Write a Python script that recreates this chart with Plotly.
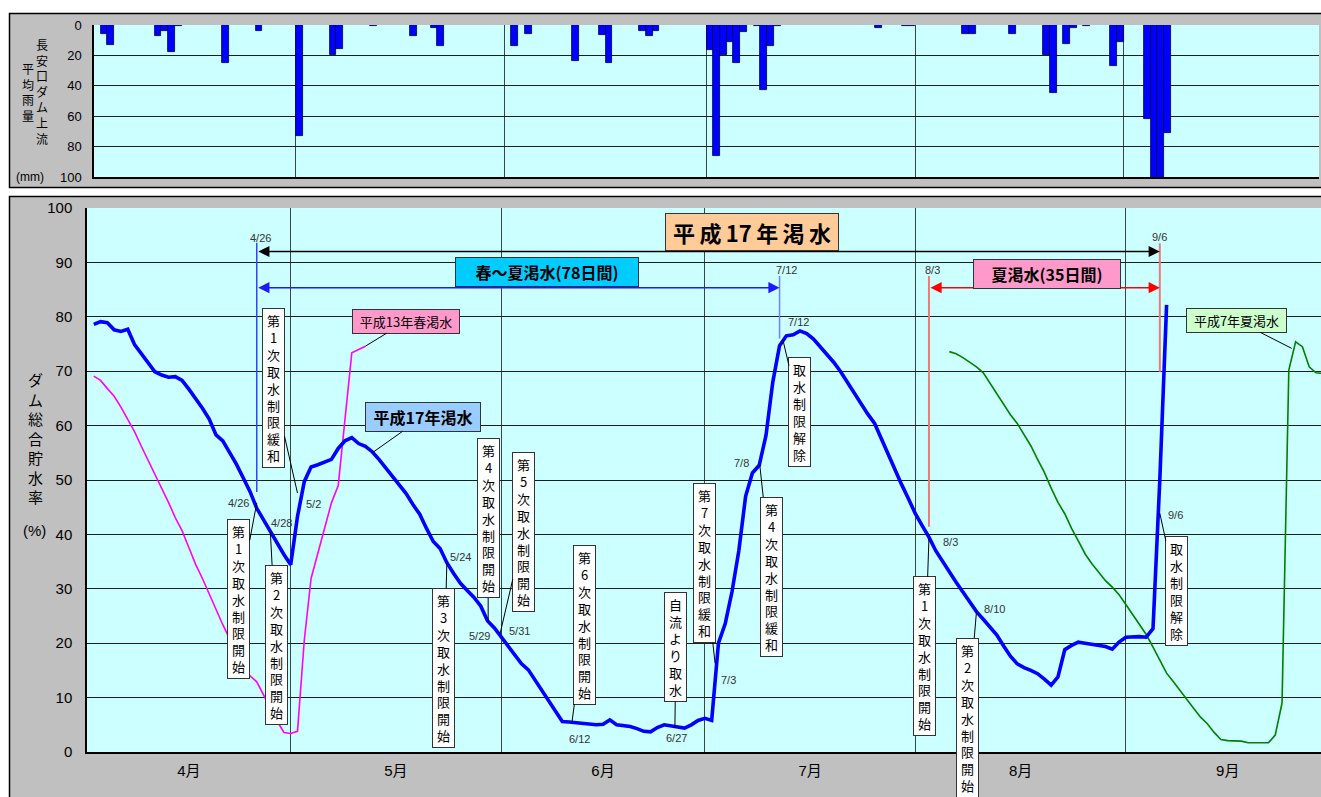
import pandas as pd
import plotly.graph_objects as go

W, H = 1321, 797


def px(x):
    return x / W


def py(y):
    return 1 - y / H


# ---------------- data ----------------
# H17 (2005) dam storage rate, daily from 2005-04-02
blue_start = "2005-04-02"
blue_vals = [
    78.6, 79.1, 78.9, 77.6, 77.3, 77.7, 74.9, 73.3, 71.7, 69.9,
    69.3, 68.9, 69.0, 68.3, 66.7, 65.0, 63.2, 61.2, 58.3, 57.2,
    55.2, 52.9, 50.4, 47.9, 44.8, 42.6, 40.4, 38.3, 36.3, 34.4,
    43.3, 49.7, 52.4, 52.8, 53.3, 53.8, 55.8, 57.2, 57.8, 56.7,
    56.2, 55.2, 53.8, 52.2, 50.8, 49.2, 47.5, 45.5, 43.7, 41.1,
    38.7, 37.4, 34.8, 32.8, 31.0, 29.7, 28.4, 26.8, 24.1, 22.8,
    21.1, 19.5, 17.8, 16.2, 15.1, 13.2, 11.3, 9.6, 7.7, 5.6,
    5.5, 5.4, 5.3, 5.1, 5.0, 5.1, 5.9, 5.0, 4.8, 4.7,
    4.3, 3.8, 3.7, 4.5, 5.0, 4.8, 4.6, 4.4, 5.0, 5.8,
    6.2, 5.8, 20.0, 23.6, 29.5, 37.0, 47.0, 51.3, 52.7, 58.2,
    68.0, 74.7, 76.5, 76.7, 77.4, 76.9, 75.9, 74.5, 73.0, 71.6,
    69.9, 68.0, 65.9, 63.9, 62.1, 60.4, 57.5, 54.7, 52.0, 49.1,
    46.5, 43.8, 41.6, 39.5, 37.0, 35.0, 33.0, 31.2, 29.4, 27.6,
    25.8, 24.4, 22.9, 21.5, 19.5, 17.6, 16.2, 15.5, 15.0, 14.4,
    13.4, 12.3, 13.8, 18.8, 19.6, 20.2, 20.0, 19.8, 19.6, 19.4,
    18.9, 20.2, 21.1, 21.2, 21.2, 21.1, 22.7, 50.0, 82.2,
]

# H13 spring drought, daily from 2005-04-02 (same calendar days)
h13_start = "2005-04-02"
h13_vals = [
    69.1, 68.3, 66.8, 65.4, 63.4, 61.2, 58.9, 56.2, 53.7, 51.0,
    48.4, 45.9, 43.1, 40.7, 37.6, 34.5, 31.9, 29.0, 26.1, 23.4,
    20.8, 18.5, 16.2, 14.0, 12.9, 10.4, 8.0, 5.7, 3.6, 3.4,
    3.8, 20.5, 31.9, 36.5, 41.2, 45.8, 49.0, 61.2, 73.4, 74.0,
    74.6,
]

# H7 summer drought, daily from 2005-08-06 (same calendar days)
h7_start = "2005-08-06"
h7_vals = [
    73.6, 73.2, 72.5, 71.7, 70.8, 69.7, 67.8, 65.9, 63.9, 62.0,
    60.4, 58.4, 56.3, 53.8, 51.4, 48.5, 45.9, 43.8, 41.1, 38.8,
    36.4, 34.6, 33.1, 31.5, 30.3, 28.9, 27.1, 25.3, 23.3, 21.6,
    19.3, 16.9, 14.5, 12.9, 11.2, 9.6, 8.0, 6.4, 5.2, 3.6,
    2.3, 2.1, 2.1, 2.0, 1.7, 1.7, 1.7, 1.7, 3.1, 9.0,
    70.2, 75.4, 74.5, 70.8, 69.7, 69.6,
]

# daily rainfall above Nagayasuguchi dam (mm)
rain_dates = [
    "2005-04-02", "2005-04-03", "2005-04-10", "2005-04-11", "2005-04-12",
    "2005-04-13", "2005-04-20", "2005-04-25", "2005-05-01", "2005-05-06",
    "2005-05-07", "2005-05-12", "2005-05-18", "2005-05-21", "2005-05-22",
    "2005-06-02", "2005-06-04", "2005-06-11", "2005-06-15", "2005-06-16",
    "2005-06-21", "2005-06-22", "2005-06-23", "2005-07-01", "2005-07-02",
    "2005-07-03", "2005-07-04", "2005-07-05", "2005-07-06", "2005-07-08",
    "2005-07-09", "2005-07-10", "2005-07-11", "2005-07-26", "2005-07-30",
    "2005-07-31", "2005-08-08", "2005-08-09", "2005-08-15", "2005-08-20",
    "2005-08-21", "2005-08-23", "2005-08-24", "2005-08-26", "2005-08-30",
    "2005-08-31", "2005-09-04", "2005-09-05", "2005-09-06", "2005-09-07",
]
rain_mm = [
    6, 13, 7, 4, 18,
    0.5, 25, 3.7, 73, 20,
    16, 0.5, 7, 2, 14,
    14, 6, 23.5, 6.5, 25,
    4, 7, 4, 16.5, 86,
    20, 11.5, 25, 4.5, 0.5,
    42.5, 13.5, 0.5, 2.2, 0.5,
    0.5, 6, 6, 6, 20,
    45, 12.7, 2.2, 0.5, 27,
    11, 62, 120, 110, 71,
]

month_labels = ["4月", "5月", "6月", "7月", "8月", "9月"]
month_mids = ["2005-04-16", "2005-05-16 12:00", "2005-06-16", "2005-07-16 12:00",
              "2005-08-16 12:00", "2005-09-16"]
month_starts = ["2005-05-01", "2005-06-01", "2005-07-01", "2005-08-01", "2005-09-01"]

# events: (box text, tip date, tip value, box offset x, box offset y)
callouts = [
    ("第1次取水制限緩和", "2005-05-02", 47.6, -24, -105),
    ("第1次取水制限開始", "2005-04-26", 45.8, -18, 96),
    ("第2次取水制限開始", "2005-04-28", 40.5, 6, 113),
    ("第3次取水制限開始", "2005-05-24", 34.7, -3, 105),
    ("第4次取水制限開始", "2005-05-30 02:00", 24.0, 0, -103),
    ("第5次取水制限開始", "2005-05-31 19:00", 21.5, 24, -103),
    ("第6次取水制限開始", "2005-06-11 10:00", 5.4, 13, -98),
    ("自流より取水", "2005-06-26 14:00", 4.4, 1, -81),
    ("第7次取水制限緩和", "2005-07-02 12:00", 16.3, -11, -100),
    ("第4次取水制限緩和", "2005-07-09 02:00", 52.8, 12, 112),
    ("取水制限解除", "2005-07-12 12:00", 75.7, 17, 72),
    ("第1次取水制限開始", "2005-08-03", 39.3, -4, 118),
    ("第2次取水制限開始", "2005-08-10", 25.8, -9, 106),
    ("取水制限解除", "2005-09-06", 43.9, 17, 78),
]
# date labels: (text, date, value, xshift, yshift)
date_labels = [
    ("4/26", "2005-04-26", 45.8, -18, 0),
    ("4/28", "2005-04-28", 40.5, 11, 9),
    ("5/2", "2005-05-02", 47.6, 16, -11),
    ("5/24", "2005-05-24", 34.7, 14, 6),
    ("5/29", "2005-05-30 02:00", 24.0, -9, -15),
    ("5/31", "2005-05-31 19:00", 21.5, 20, 4),
    ("6/12", "2005-06-11 10:00", 5.4, 8, -16),
    ("6/27", "2005-06-26 14:00", 4.4, 2, -10),
    ("7/3", "2005-07-02 12:00", 16.3, 13, -17),
    ("7/8", "2005-07-09 02:00", 52.8, -18, 2),
    ("7/12", "2005-07-12 12:00", 75.7, 16, 18),
    ("8/3", "2005-08-03", 39.3, 22, -4),
    ("8/10", "2005-08-10", 25.8, 18, 3),
    ("9/6", "2005-09-06", 43.9, 16, -2),
    ("4/26", "2005-04-26", 94.4, 4, 0),
    ("9/6", "2005-09-06", 94.6, 0, 0),
    ("7/12", "2005-07-12", 88.6, 7, 0),
    ("8/3", "2005-08-03", 88.6, 4, 0),
]
# period marker lines: (date, y from, y to, colour, width)
period_lines = [
    ("2005-04-26", 47.8, 93.6, "#3344ff", 1.5),
    ("2005-07-12", 76.0, 87.5, "#6f7fff", 1.5),
    ("2005-08-03", 41.4, 87.5, "#f07878", 2),
    ("2005-09-06", 69.9, 93.5, "#f07878", 2),
]
# period arrows: (start, end, level, colour)
period_arrows = [
    ("2005-04-26", "2005-09-06", 92.0, "#000000"),
    ("2005-04-26", "2005-07-12", 85.35, "#1a1aff"),
    ("2005-08-03", "2005-09-06", 85.35, "#ff0000"),
]

FONT = "Liberation Sans, Noto Sans CJK JP, sans-serif"
JP = "Noto Sans CJK JP, sans-serif"

fig = go.Figure()

fig.add_trace(go.Bar(
    x=rain_dates, y=rain_mm, xaxis="x2", yaxis="y2",
    xperiod=86400000, xperiodalignment="middle", width=86400000,
    marker=dict(color="#0000ff", line=dict(color="#000040", width=0.8)),
    showlegend=False, hoverinfo="x+y",
))
fig.add_trace(go.Scatter(
    x=pd.date_range(h13_start, periods=len(h13_vals), freq="D"), y=h13_vals,
    mode="lines", line=dict(color="#ff00ff", width=1.6), showlegend=False,
))
fig.add_trace(go.Scatter(
    x=pd.date_range(h7_start, periods=len(h7_vals), freq="D"), y=h7_vals,
    mode="lines", line=dict(color="#008000", width=1.6), showlegend=False,
))
fig.add_trace(go.Scatter(
    x=pd.date_range(blue_start, periods=len(blue_vals), freq="D"), y=blue_vals,
    mode="lines", line=dict(color="#0000ff", width=3.6), showlegend=False,
))

shapes = [
    # white margins around the gray panels
    dict(type="rect", xref="paper", yref="paper", x0=-0.01, x1=1.01, y0=py(13), y1=1.02,
         fillcolor="white", line=dict(width=0), layer="below"),
    dict(type="rect", xref="paper", yref="paper", x0=-0.01, x1=1.01, y0=py(196), y1=py(188),
         fillcolor="white", line=dict(width=0), layer="below"),
    dict(type="rect", xref="paper", yref="paper", x0=-0.02, x1=px(9), y0=-0.02, y1=1.02,
         fillcolor="white", line=dict(width=0), layer="below"),
    dict(type="rect", xref="paper", yref="paper", x0=px(9.5), x1=1.01, y0=py(187.5), y1=py(13.5),
         fillcolor="rgba(0,0,0,0)", line=dict(color="black", width=1.5), layer="below"),
    dict(type="rect", xref="paper", yref="paper", x0=px(9.5), x1=1.01, y0=-0.02, y1=py(196.5),
         fillcolor="rgba(0,0,0,0)", line=dict(color="black", width=1.5), layer="below"),
]
for d, y0, y1, col, w in period_lines:
    shapes.append(dict(type="line", xref="x", yref="y", x0=d, x1=d, y0=y0, y1=y1,
                       line=dict(color=col, width=w)))

annotations = []
for s, e, lev, col in period_arrows:
    annotations.append(dict(
        x=e, y=lev, ax=s, ay=lev, xref="x", yref="y", axref="x", ayref="y",
        text="", showarrow=True, arrowside="end+start",
        arrowhead=2, startarrowhead=2, arrowsize=1.6, startarrowsize=1.6,
        arrowwidth=1.4, arrowcolor=col, standoff=0, startstandoff=0,
    ))

for txt, d, v, ax, ay in callouts:
    annotations.append(dict(
        x=d, y=v, xref="x", yref="y", ax=ax, ay=ay,
        text="<br>".join(list(txt)), showarrow=True, arrowhead=0,
        arrowwidth=1, arrowcolor="black", standoff=0,
        bgcolor="white", bordercolor="#333333", borderwidth=1, borderpad=2,
        width=17, font=dict(family=JP, size=13, color="black"),
    ))

for txt, d, v, xs, ys in date_labels:
    annotations.append(dict(
        x=d, y=v, xref="x", yref="y", xshift=xs, yshift=ys, text=txt,
        showarrow=False, font=dict(family=FONT, size=11, color="#333333"),
    ))

# named callout boxes with pointers
named = [
    ("平成13年春渇水", "2005-05-12", 74.6, 41, -25, "#ff99cc", 13, False, 102),
    ("平成17年渇水", "2005-05-13", 55.0, 51, -36, "#99ccff", 16, True, 110),
    ("平成7年夏渇水", "2005-09-25 10:00", 74.2, -55, -28, "#ccffcc", 13, False, 95),
]
for txt, d, v, ax, ay, bg, fs, bold, wd in named:
    annotations.append(dict(
        x=d, y=v, xref="x", yref="y", ax=ax, ay=ay,
        text=f"<b>{txt}</b>" if bold else txt, showarrow=True, arrowhead=0,
        arrowwidth=1, arrowcolor="black", standoff=0,
        bgcolor=bg, bordercolor="#333333", borderwidth=1, borderpad=2, width=wd,
        font=dict(family=JP, size=fs, color="black"),
    ))

# title boxes
titles = [
    ("<b>平\u2009成\u200917\u2009年\u2009渇\u2009水</b>", 751.5, 232, 168, 22, "#ffcc99", 22),
    ("<b>春～夏渇水(78日間)</b>", 546.5, 272.5, 178, 16, "#00ccff", 16),
    ("<b>夏渇水(35日間)</b>", 1046.5, 274, 142, 14, "#ff99cc", 16),
]
for txt, cx, cy, wd, ht, bg, fs in titles:
    annotations.append(dict(
        x=px(cx), y=py(cy), xref="paper", yref="paper", xanchor="center", yanchor="middle",
        text=txt, showarrow=False, bgcolor=bg, bordercolor="#333333", borderwidth=1,
        borderpad=2, width=wd, font=dict(family=JP, size=fs, color="black"),
    ))

# axis titles
axis_titles = [
    ("<br>".join(list("ダム総合貯水率")), 35, 439, 15),
    ("(%)", 34, 530, 15),
    ("<br>".join(list("長安口ダム上流")), 42, 93, 12),
    ("<br>".join(list("平均雨量")), 27.5, 93, 12),
    ("(mm)", 30, 177, 12),
]
for txt, cx, cy, fs in axis_titles:
    annotations.append(dict(
        x=px(cx), y=py(cy), xref="paper", yref="paper", xanchor="center", yanchor="middle",
        text=txt, showarrow=False, font=dict(family=FONT, size=fs, color="black"),
    ))

vgrid = dict(tickmode="array", tickvals=month_starts, showgrid=True,
             gridcolor="#3a4646", gridwidth=1.3, ticks="")

fig.update_layout(
    width=W, height=H,
    margin=dict(l=0, r=0, t=0, b=0),
    paper_bgcolor="#c0c0c0", plot_bgcolor="#ccffff",
    font=dict(family=FONT, color="black"),
    showlegend=False,
    bargap=0,
    xaxis=dict(
        type="date", domain=[px(87), 1.0], anchor="y",
        range=["2005-04-01", "2005-09-29 17:45"],
        tickmode="array", tickvals=month_mids, ticktext=month_labels,
        showgrid=False, ticks="outside", ticklen=4, tickcolor="rgba(0,0,0,0)",
        tickfont=dict(size=15, family=FONT), minor=vgrid,
        showline=True, linecolor="black", linewidth=1.5, zeroline=False, automargin=False,
    ),
    yaxis=dict(
        domain=[py(752), py(208)], anchor="x", range=[0, 100],
        tickmode="linear", tick0=0, dtick=10,
        showgrid=True, gridcolor="#1e1e1e", gridwidth=1,
        ticks="outside", ticklen=10, tickcolor="rgba(0,0,0,0)",
        tickfont=dict(size=15, family=FONT),
        showline=True, linecolor="black", linewidth=1.5, zeroline=False, automargin=False,
    ),
    xaxis2=dict(
        type="date", domain=[px(94), px(1319)], anchor="y2",
        range=["2005-04-01", "2005-09-30"],
        showticklabels=False, showgrid=False, ticks="", minor=vgrid,
        showline=True, linecolor="black", linewidth=1.5, zeroline=False, automargin=False,
    ),
    yaxis2=dict(
        domain=[py(177), py(25)], anchor="x2", range=[100, 0],
        tickmode="linear", tick0=0, dtick=20,
        showgrid=True, gridcolor="#1e1e1e", gridwidth=1,
        ticks="outside", ticklen=8, tickcolor="rgba(0,0,0,0)",
        tickfont=dict(size=13, family=FONT),
        showline=True, linecolor="black", linewidth=1.5, zeroline=False, automargin=False,
    ),
    shapes=shapes,
    annotations=annotations,
)

fig.write_html(
    "out.html",
    config={"displayModeBar": False},
    post_script="document.body.style.margin='0';document.body.style.overflow='hidden';",
)
